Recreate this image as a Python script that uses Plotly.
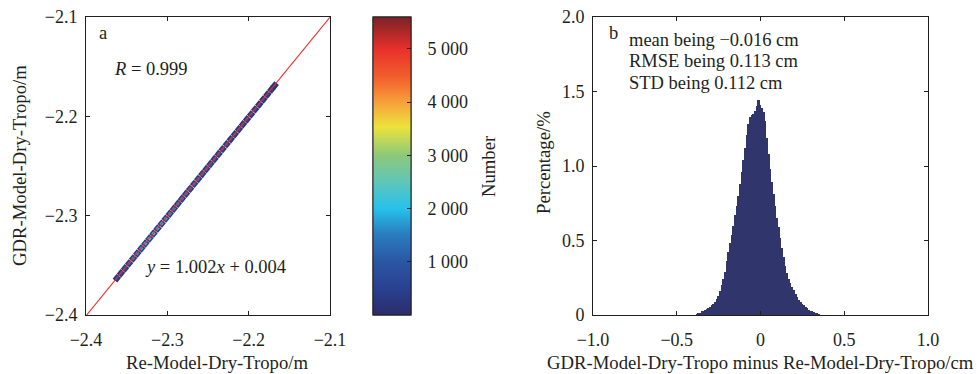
import plotly.graph_objects as go

# ---------------- data ----------------
# panel a: density cells along the 1:1 band (x, y in m, count per cell)
dens_x = [-2.362, -2.357, -2.352, -2.347, -2.342, -2.337, -2.332, -2.327, -2.322, -2.317,
          -2.312, -2.307, -2.302, -2.297, -2.292, -2.287, -2.282, -2.277, -2.272, -2.267,
          -2.262, -2.257, -2.252, -2.247, -2.242, -2.237, -2.232, -2.227, -2.222, -2.217,
          -2.212, -2.207, -2.202, -2.197, -2.192, -2.187, -2.182, -2.177, -2.172, -2.168]
dens_y = [-2.363, -2.358, -2.353, -2.348, -2.343, -2.338, -2.333, -2.328, -2.323, -2.318,
          -2.313, -2.308, -2.303, -2.298, -2.293, -2.288, -2.283, -2.278, -2.273, -2.268,
          -2.263, -2.258, -2.253, -2.248, -2.243, -2.238, -2.233, -2.228, -2.223, -2.218,
          -2.213, -2.208, -2.203, -2.198, -2.193, -2.188, -2.183, -2.178, -2.173, -2.169]
# sparse outer cells
dens_n = [120, 160, 200, 220, 240, 260, 280, 300, 300, 300,
          300, 300, 300, 300, 300, 300, 300, 300, 280, 280,
          280, 280, 260, 260, 260, 240, 240, 240, 220, 220,
          220, 200, 200, 180, 180, 160, 150, 140, 120, 100]
# denser inner cells
mid_n = [700, 900, 1100, 1300, 1500, 1700, 1900, 2100, 2300, 2200,
         2000, 1900, 1800, 1700, 1600, 1500, 1450, 1400, 1350, 1300,
         1250, 1200, 1150, 1100, 1100, 1050, 1000, 1000, 950, 950,
         900, 900, 850, 800, 800, 750, 700, 650, 600, 500]
fit_x = [-2.4, -2.1]
fit_slope, fit_icpt = 1.002, 0.004

# panel b: histogram of differences (bin centre in cm, percentage)
hist_x = [-0.38, -0.37, -0.36, -0.35, -0.34, -0.33, -0.32, -0.31, -0.30, -0.29,
          -0.28, -0.27, -0.26, -0.25, -0.24, -0.23, -0.22, -0.21, -0.20, -0.19,
          -0.18, -0.17, -0.16, -0.15, -0.14, -0.13, -0.12, -0.11, -0.10, -0.09,
          -0.08, -0.07, -0.06, -0.05, -0.04, -0.03, -0.02, -0.01, 0.00, 0.01,
          0.02, 0.03, 0.04, 0.05, 0.06, 0.07, 0.08, 0.09, 0.10, 0.11,
          0.12, 0.13, 0.14, 0.15, 0.16, 0.17, 0.18, 0.19, 0.20, 0.21,
          0.22, 0.23, 0.24, 0.25, 0.26, 0.27, 0.28, 0.29, 0.30, 0.31,
          0.32, 0.33, 0.34, 0.35]
hist_y = [0.005, 0.010, 0.015, 0.025, 0.030, 0.035, 0.040, 0.050, 0.055, 0.065,
          0.075, 0.090, 0.110, 0.130, 0.160, 0.200, 0.240, 0.290, 0.360, 0.420,
          0.480, 0.540, 0.600, 0.670, 0.730, 0.800, 0.880, 0.960, 1.040, 1.120,
          1.210, 1.280, 1.330, 1.340, 1.350, 1.370, 1.400, 1.440, 1.410, 1.390,
          1.360, 1.300, 1.190, 1.080, 0.980, 0.890, 0.810, 0.730, 0.650, 0.590,
          0.520, 0.450, 0.390, 0.330, 0.280, 0.240, 0.215, 0.190, 0.165, 0.140,
          0.120, 0.100, 0.085, 0.075, 0.065, 0.055, 0.045, 0.035, 0.030, 0.025,
          0.020, 0.012, 0.008, 0.004]
hist_width = 0.01

xa_ticks = [-2.4, -2.3, -2.2, -2.1]
xb_ticks = [-1.0, -0.5, 0, 0.5, 1.0]
xb_labels = ["\u22121.0", "\u22120.5", "0", "0.5", "1.0"]
yb_ticks = [0, 0.5, 1.0, 1.5, 2.0]
yb_labels = ["0", "0.5", "1.0", "1.5", "2.0"]
cb_ticks = [1000, 2000, 3000, 4000, 5000]
cb_labels = ["1 000", "2 000", "3 000", "4 000", "5 000"]
cb_range = [0, 5600]

# ---------------- figure ----------------
FONT = "Liberation Serif"
FS_TICK = 18
FS_TITLE = 18.7
FS_ANN = 18.5
INK = "#231f20"
cscale = [
    [0.000, "#2b2d6a"], [0.084, "#2a3f8f"], [0.179, "#2a57a4"], [0.274, "#2a7fc1"],
    [0.357, "#27c1ec"], [0.446, "#5fc6b9"], [0.536, "#8cc97a"], [0.631, "#ece33c"],
    [0.714, "#f6a03a"], [0.800, "#f15d2c"], [0.893, "#e8302b"], [1.000, "#7a2226"],
]

fig = go.Figure()
fig.add_trace(go.Scatter(
    x=dens_x, y=dens_y, mode="markers",
    marker=dict(size=6.0, symbol="square", angle=39.3, color=dens_n,
                coloraxis="coloraxis", line_width=0),
    xaxis="x", yaxis="y", showlegend=False, hoverinfo="skip"))
fig.add_trace(go.Scatter(
    x=dens_x, y=dens_y, mode="markers",
    marker=dict(size=3.2, symbol="square", angle=39.3, color=mid_n,
                coloraxis="coloraxis", line_width=0),
    xaxis="x", yaxis="y", showlegend=False, hoverinfo="skip"))
# invisible carrier for the overlay colour bar that draws the inside ticks
fig.add_trace(go.Scatter(
    x=dens_x[:1], y=dens_y[:1], mode="markers",
    marker=dict(size=1, opacity=0, color=dens_n[:1], coloraxis="coloraxis2"),
    xaxis="x", yaxis="y", showlegend=False, hoverinfo="skip"))
fig.add_trace(go.Scatter(
    x=fit_x, y=[fit_slope * v + fit_icpt for v in fit_x], mode="lines",
    line=dict(color="#ee2a24", width=1.1), xaxis="x", yaxis="y", showlegend=False))
fig.add_trace(go.Bar(
    x=hist_x, y=hist_y, width=hist_width, marker=dict(color="#30366b", line_width=0),
    xaxis="x2", yaxis="y2", showlegend=False))

axis_common = dict(showline=True, linecolor=INK, linewidth=1, mirror="ticks",
                   ticks="inside", ticklen=4, tickcolor=INK, showgrid=False,
                   zeroline=False, automargin=False,
                   tickfont=dict(family=FONT, size=FS_TICK, color=INK))

cb_geom = dict(x=373 / 977, xanchor="left", thickness=38, len=298, lenmode="pixels",
               y=1 - 166 / 374, yanchor="middle", outlinecolor=INK, outlinewidth=1,
               tickvals=cb_ticks, xpad=0, ypad=0)

ydom = [1 - 315 / 374, 1 - 17 / 374]
fig.update_layout(
    width=977, height=374, margin=dict(l=0, r=0, t=0, b=0, autoexpand=False),
    paper_bgcolor="white", plot_bgcolor="white",
    font=dict(family=FONT, size=FS_TICK, color=INK),
    xaxis=dict(domain=[86 / 977, 330 / 977], range=[-2.4, -2.1], tickvals=xa_ticks,
               ticklabelstandoff=8, anchor="y", **axis_common),
    yaxis=dict(domain=ydom, range=[-2.4, -2.1], tickvals=xa_ticks,
               ticklabelstandoff=4, anchor="x", **axis_common),
    xaxis2=dict(domain=[593 / 977, 928 / 977], range=[-1, 1], tickvals=xb_ticks, ticktext=xb_labels,
                ticklabelstandoff=8, anchor="y2", **axis_common),
    yaxis2=dict(domain=ydom, range=[0, 2], tickvals=yb_ticks, ticktext=yb_labels,
                ticklabelstandoff=4, anchor="x2", **axis_common),
    coloraxis=dict(
        colorscale=cscale, cmin=cb_range[0], cmax=cb_range[1],
        colorbar=dict(ticks="outside", ticklen=13, tickcolor="rgba(0,0,0,0)",
                      ticktext=cb_labels,
                      tickfont=dict(family=FONT, size=FS_TICK, color=INK),
                      **cb_geom),
    ),
    coloraxis2=dict(
        colorscale=cscale, cmin=cb_range[0], cmax=cb_range[1],
        colorbar=dict(ticks="inside", ticklen=4, tickcolor=INK, showticklabels=False,
                      **cb_geom),
    ),
    bargap=0,
)

ann = [
    dict(x=-2.3865, y=-2.116, xref="x", yref="y", text="a"),
    dict(x=-2.368, y=-2.152, xref="x", yref="y", text="<i>R</i> = 0.999"),
    dict(x=-2.33, y=-2.352, xref="x", yref="y", text="<i>y</i> = 1.002<i>x</i> + 0.004"),
    dict(x=-0.916, y=1.892, xref="x2", yref="y2", text="b"),
    dict(x=-0.797, y=1.845, xref="x2", yref="y2", text="mean being \u22120.016 cm"),
    dict(x=-0.797, y=1.704, xref="x2", yref="y2", text="RMSE being 0.113 cm"),
    dict(x=-0.797, y=1.556, xref="x2", yref="y2", text="STD being 0.112 cm"),
]
for a in ann:
    fig.add_annotation(showarrow=False, xanchor="left", yanchor="middle",
                       font=dict(family=FONT, size=FS_ANN, color=INK), **a)

# axis titles and colour-bar title
titles = [
    dict(x=217 / 977, y=1 - 362 / 374, text="Re-Model-Dry-Tropo/m", textangle=0),
    dict(x=760 / 977, y=1 - 362 / 374, text="GDR-Model-Dry-Tropo minus Re-Model-Dry-Tropo/cm", textangle=0),
    dict(x=19 / 977, y=1 - 166 / 374, text="GDR-Model-Dry-Tropo/m", textangle=-90),
    dict(x=543 / 977, y=1 - 163 / 374, text="Percentage/%", textangle=-90),
    dict(x=488 / 977, y=1 - 166 / 374, text="Number", textangle=-90),
]
for t in titles:
    fig.add_annotation(showarrow=False, xref="paper", yref="paper", xanchor="center",
                       yanchor="middle", font=dict(family=FONT, size=FS_TITLE, color=INK), **t)

fig.write_html("out.html", config={"displayModeBar": False},
               post_script="document.body.style.margin='0px';")
